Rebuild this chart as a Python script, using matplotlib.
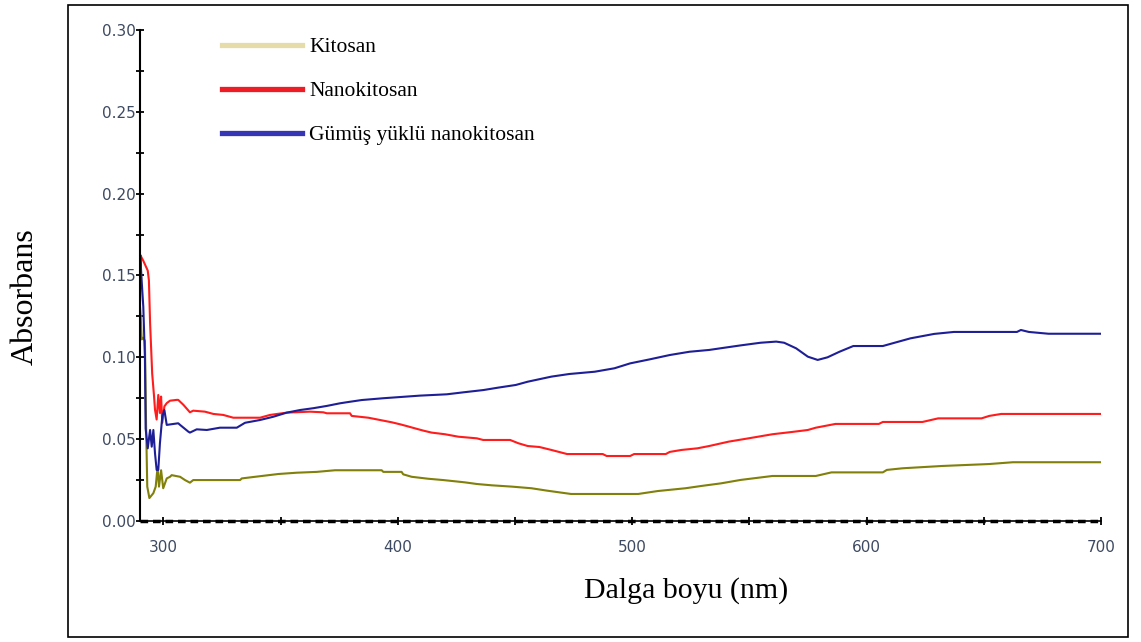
import matplotlib
matplotlib.use('Agg')
import matplotlib.pyplot as plt
from matplotlib.lines import Line2D
from matplotlib.patches import Rectangle
from matplotlib.ticker import MultipleLocator

# UV-Vis spektrumlari (dalga boyu nm, absorbans)
kitosan_nm = [290.0, 290.3, 290.7, 291.4, 292.1, 292.6, 293.1, 294.0, 295.7, 296.7, 297.5, 298.1,
              299.0, 299.9, 301.4, 302.8, 303.5, 307.1, 309.2, 311.3, 312.7, 332.7, 333.4, 339.1,
              349.0, 356.9, 365.4, 373.2, 393.1, 393.8, 401.6, 402.3, 405.9, 413.0, 419.4, 428.6,
              433.7, 440.0, 448.6, 457.0, 463.8, 473.9, 502.5, 510.9, 522.7, 529.5, 537.9, 546.3,
              559.8, 578.3, 585.0, 606.9, 608.6, 615.3, 632.1, 652.3, 662.4, 700.0]
kitosan_abs = [0.131, 0.125, 0.111, 0.112, 0.110, 0.058, 0.021, 0.014, 0.017, 0.021, 0.033, 0.021,
               0.031, 0.020, 0.026, 0.027, 0.028, 0.027, 0.025, 0.0234, 0.025, 0.025, 0.026, 0.027,
               0.0287, 0.0295, 0.030, 0.031, 0.031, 0.030, 0.030, 0.0285, 0.027, 0.0258, 0.025, 0.0236,
               0.0226, 0.0218, 0.021, 0.020, 0.0185, 0.0165, 0.0165, 0.0183, 0.020, 0.0214, 0.023, 0.0251,
               0.0275, 0.0275, 0.0297, 0.0297, 0.0312, 0.0322, 0.0336, 0.0348, 0.0359, 0.0359]

nano_nm = [290.0, 290.1, 291.4, 293.3, 293.8, 294.3, 295.2, 296.0, 296.4, 297.1, 297.8, 298.5,
           299.0, 299.5, 300.4, 301.4, 302.8, 305.7, 306.3, 308.5, 311.3, 312.7, 317.7, 321.3,
           325.5, 329.8, 341.2, 345.5, 352.6, 362.5, 368.2, 369.7, 379.6, 380.3, 387.4, 392.4,
           397.4, 400.9, 403.8, 407.3, 410.9, 414.4, 420.1, 425.8, 433.7, 436.4, 447.9, 451.4,
           455.4, 460.4, 465.5, 472.2, 487.4, 489.1, 499.1, 500.8, 514.3, 516.0, 521.0, 527.8,
           532.8, 541.2, 549.6, 559.8, 568.2, 574.9, 578.3, 586.7, 605.2, 606.9, 623.8, 630.5,
           649.0, 652.3, 657.4, 700.0]
nano_abs = [0.133, 0.1625, 0.159, 0.153, 0.147, 0.121, 0.090, 0.076, 0.068, 0.062, 0.077, 0.066,
            0.076, 0.060, 0.070, 0.072, 0.0735, 0.074, 0.074, 0.071, 0.0664, 0.0674, 0.0668, 0.0654,
            0.0648, 0.0631, 0.0631, 0.0648, 0.0662, 0.0668, 0.0664, 0.0658, 0.0658, 0.0642, 0.0631, 0.0617,
            0.0603, 0.0591, 0.058, 0.0566, 0.0552, 0.054, 0.053, 0.0515, 0.0505, 0.0495, 0.0495, 0.0475,
            0.0458, 0.0452, 0.0434, 0.0409, 0.0409, 0.0397, 0.0397, 0.0409, 0.0409, 0.0422, 0.0434, 0.0444,
            0.0458, 0.0485, 0.0505, 0.053, 0.0544, 0.0556, 0.057, 0.0593, 0.0593, 0.0605, 0.0605, 0.0627,
            0.0627, 0.0642, 0.0654, 0.0654]

gumus_nm = [290.0, 290.1, 290.7, 291.4, 292.1, 292.4, 293.3, 294.3, 295.0, 295.7, 296.4, 297.1,
            297.8, 298.5, 299.5, 300.4, 301.4, 306.3, 307.1, 310.6, 311.3, 314.2, 318.5, 324.1,
            331.3, 334.8, 341.2, 346.9, 352.6, 358.3, 363.9, 369.7, 375.3, 378.9, 384.6, 393.8,
            409.5, 420.9, 427.9, 436.5, 442.9, 450.3, 455.4, 465.5, 473.1, 484.0, 492.4, 499.1,
            507.6, 516.0, 524.4, 532.8, 539.5, 546.3, 554.7, 561.4, 564.8, 569.9, 574.9, 579.1,
            583.3, 588.4, 594.3, 606.9, 611.9, 618.7, 628.8, 637.2, 664.1, 665.8, 669.2, 677.6,
            700.0]
gumus_abs = [0.135, 0.1625, 0.147, 0.131, 0.100, 0.0566, 0.0444, 0.0556, 0.0454, 0.0556, 0.0414, 0.0312,
             0.0312, 0.0475, 0.0637, 0.0678, 0.0587, 0.0597, 0.0587, 0.0546, 0.054, 0.056, 0.0556, 0.057,
             0.057, 0.060, 0.0617, 0.0637, 0.0662, 0.0678, 0.0689, 0.0703, 0.0719, 0.0727, 0.0739, 0.075,
             0.0766, 0.0774, 0.0786, 0.080, 0.0815, 0.0831, 0.0851, 0.0882, 0.0898, 0.0912, 0.0933, 0.0963,
             0.0988, 0.1014, 0.1034, 0.1045, 0.1059, 0.1073, 0.1089, 0.1096, 0.1089, 0.1055, 0.1004, 0.0984,
             0.100, 0.1034, 0.1069, 0.1069, 0.1089, 0.1116, 0.1143, 0.1155, 0.1155, 0.1167, 0.1155, 0.1144,
             0.1144]

labels = ['Kitosan', 'Nanokitosan', 'Gümüş yüklü nanokitosan']
line_colors = ['#80800a', '#ff1c1c', '#1e1e96']
legend_colors = ['#e6dcaa', '#ee1c25', '#3535b5']

serif = ['Liberation Serif', 'DejaVu Serif']

fig = plt.figure(figsize=(11.41, 6.42), dpi=100)
fig.patches.append(Rectangle((0.0596, 0.0078), 0.929, 0.9844, transform=fig.transFigure,
                             fill=False, edgecolor='black', linewidth=1.2))

ax = fig.add_axes([0.1227, 0.1885, 0.8423, 0.7648])
ax.plot(kitosan_nm, kitosan_abs, color=line_colors[0], lw=1.5)
ax.plot(nano_nm, nano_abs, color=line_colors[1], lw=1.5)
ax.plot(gumus_nm, gumus_abs, color=line_colors[2], lw=1.5)

ax.set_xlim(290, 700)
ax.set_ylim(0, 0.30)
ax.spines['top'].set_visible(False)
ax.spines['right'].set_visible(False)
ax.spines['left'].set_linewidth(1.5)
ax.spines['bottom'].set_linewidth(1.2)
# kesikli taban cizgisi
ax.axhline(0, color='black', lw=2.5, ls=(0, (2.2, 1.4)), clip_on=False, zorder=3)

ax.xaxis.set_major_locator(MultipleLocator(100))
ax.xaxis.set_minor_locator(MultipleLocator(50))
ax.yaxis.set_major_locator(MultipleLocator(0.05))
ax.yaxis.set_minor_locator(MultipleLocator(0.025))
ax.tick_params(axis='y', which='both', direction='inout', length=6, width=1.3, pad=0,
               labelsize=11, labelcolor='#3e4a62')
ax.tick_params(axis='x', which='both', direction='inout', length=6, width=1.3, pad=11,
               labelsize=11, labelcolor='#3e4a62')
ax.yaxis.set_major_formatter(matplotlib.ticker.FormatStrFormatter('%.2f'))

handles = [Line2D([], [], color=c, lw=3.8) for c in legend_colors]
ax.legend(handles, labels, loc='upper left', bbox_to_anchor=(222 / 1141, 1 - 37 / 642),
          bbox_transform=fig.transFigure, frameon=False, borderpad=0, borderaxespad=0,
          handlelength=3.7, handletextpad=0.35, labelspacing=1.12,
          prop={'family': serif, 'size': 15.5})

fig.text(686 / 1141, 1 - 591 / 642, 'Dalga boyu (nm)', ha='center', va='center',
         fontsize=21.5, family=serif)
fig.text(25 / 1141, 1 - 297 / 642, 'Absorbans', ha='center', va='center', rotation=90,
         fontsize=23, family=serif)

fig.savefig('out.png', dpi=100)
